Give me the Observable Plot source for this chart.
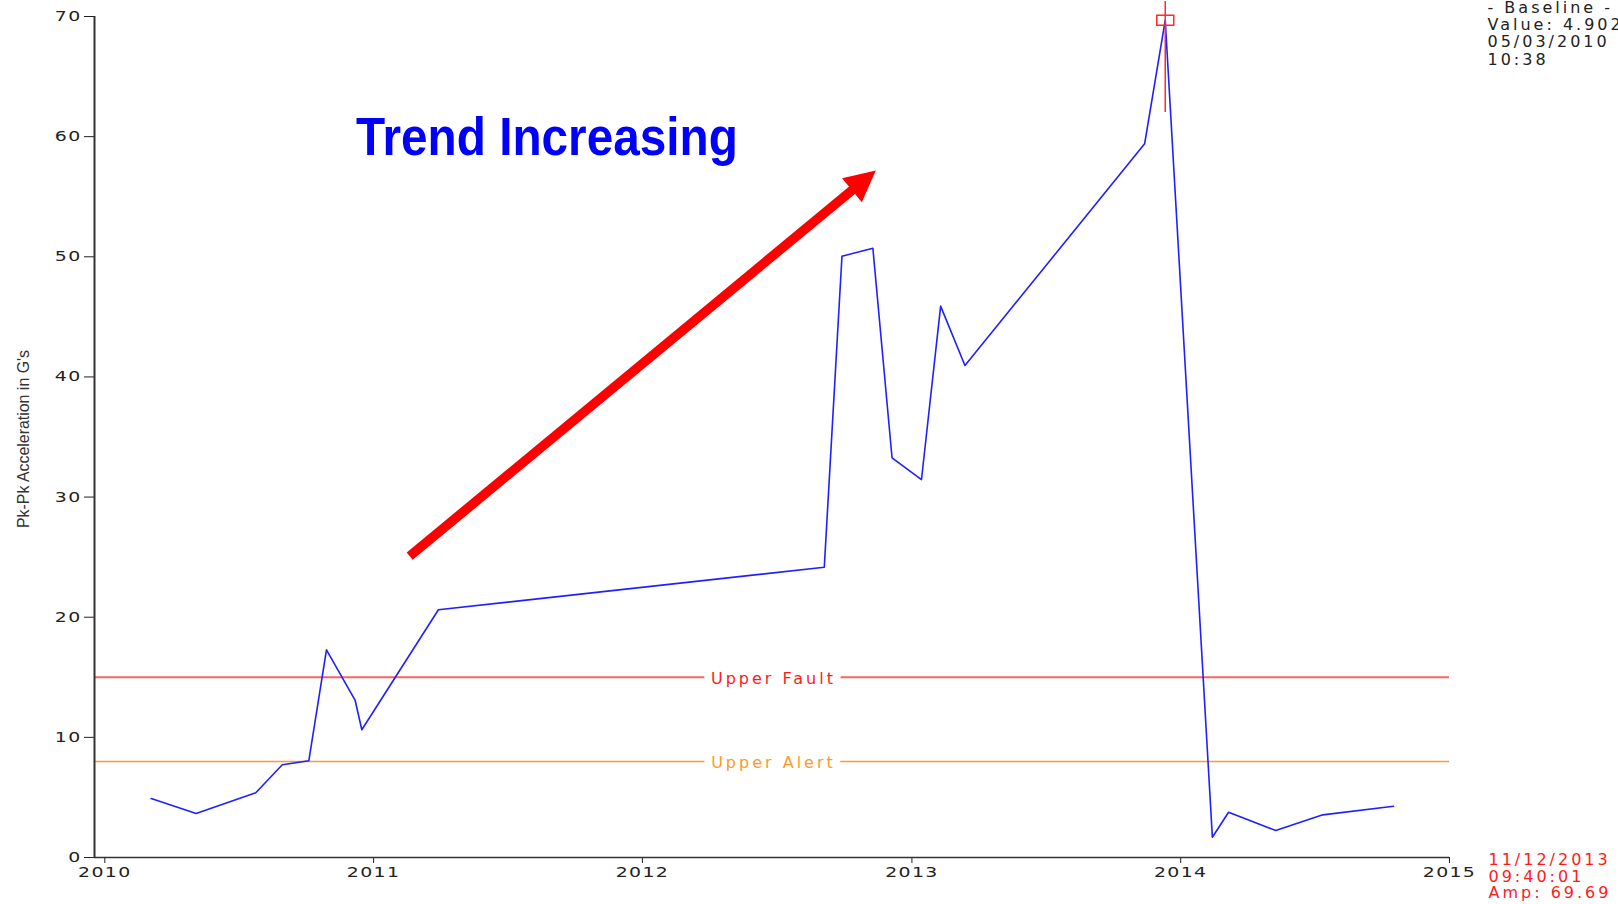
<!DOCTYPE html>
<html><head><meta charset="utf-8">
<script src="https://cdn.jsdelivr.net/npm/d3@7"></script>
<script src="https://cdn.jsdelivr.net/npm/@observablehq/plot@0.6"></script>
<style>
html,body{margin:0;padding:0;background:#fff;overflow:hidden;}
#chart svg text{letter-spacing:3px;}
</style></head><body><div id="chart"></div><script>
// ---- data ----
const dates = ["2010-03-05","2010-05-05","2010-07-25","2010-08-30","2010-10-05","2010-10-29","2010-12-07","2010-12-16","2011-03-30","2012-09-04","2012-09-28","2012-11-09","2012-12-05","2013-01-14","2013-02-09","2013-03-14","2013-11-13","2013-12-11","2014-02-13","2014-03-07","2014-05-10","2014-07-13","2014-10-17"];
const values = [4.902,3.66,5.39,7.72,8.05,17.29,13.07,10.63,20.62,24.16,50.05,50.71,33.27,31.46,45.89,40.95,59.40,69.69,1.69,3.77,2.25,3.55,4.27];
const xTicks = ["2010-01-01","2011-01-01","2012-01-01","2013-01-01","2014-01-01","2015-01-01"];
const yTicks = [0,10,20,30,40,50,60,70];
const xDomainDates = ["2009-12-18","2015-01-01"];
const yDomain = [0,70];
const thresholdNames = ["Upper Fault","Upper Alert"];
const thresholdValues = [15, 8];
const thresholdLabelDate = "2012-06-27";
const yLabel = "Pk-Pk Acceleration in G's";
const trendText = "Trend Increasing";
const trendLabelPos = {date:"2010-12-08", value:59.9};
const trendArrowDates = ["2011-02-19","2012-11-13"];
const trendArrowValues = [25.08, 57.18];
const baselineLines = ["- Baseline -","Value: 4.902","05/03/2010","10:38"];
const cursorDate = "2013-12-11";
const cursorAmp = 69.69;
const cursorTime = "09:40:01";
const cursorSpan = [62.0, 71.25];

// ---- layout ----
const W = 1618, H = 904;
const M = {left:94, right:169, top:16, bottom:47};
const data = dates.map((d,i)=>({date:new Date(d), value:values[i]}));
const xDomain = xDomainDates.map(d=>new Date(d));
const xs = d3.scaleUtc().domain(xDomain).range([M.left, W-M.right]);
const ys = d3.scaleLinear().domain(yDomain).range([H-M.bottom, M.top]);

// arrow geometry
const a0 = [xs(new Date(trendArrowDates[0])), ys(trendArrowValues[0])];
const a1 = [xs(new Date(trendArrowDates[1])), ys(trendArrowValues[1])];
const adx = a1[0]-a0[0], ady = a1[1]-a0[1], alen = Math.hypot(adx, ady);
const ux = adx/alen, uy = ady/alen;
const headLen = 31, headW = 31;
const shaftEnd = {date: xs.invert(a1[0]-ux*headLen*0.8), value: ys.invert(a1[1]-uy*headLen*0.8)};
const headSymbol = {draw(ctx){
  const bx = -ux*headLen, by = -uy*headLen;
  const px = -uy*headW/2, py = ux*headW/2;
  ctx.moveTo(0,0); ctx.lineTo(bx+px, by+py); ctx.lineTo(bx-px, by-py); ctx.closePath();
}};
const rectSymbol = {draw(ctx){
  ctx.moveTo(-8.5,-5); ctx.lineTo(8.5,-5); ctx.lineTo(8.5,5); ctx.lineTo(-8.5,5); ctx.closePath();
}};

const cursor = [{date:new Date(cursorDate), amp:cursorAmp, lo:cursorSpan[0], hi:cursorSpan[1]}];
const cursorText = d3.utcFormat("%d/%m/%Y")(new Date(cursorDate)) + "\n" + cursorTime + "\nAmp: " + cursorAmp.toFixed(2);
const thresholds = thresholdNames.map((n,i)=>({name:n, value:thresholdValues[i], date:new Date(thresholdLabelDate)}));

const chart = Plot.plot({
  width: W, height: H,
  marginLeft: M.left, marginRight: M.right, marginTop: M.top, marginBottom: M.bottom,
  style: {fontFamily: "DejaVu Sans", fontSize: "14px", color: "#222", background: "white", overflow: "visible"},
  x: {type: "utc", domain: xDomain, ticks: xTicks.map(d=>new Date(d)), tickFormat: d3.utcFormat("%Y"), tickSize: 6, tickPadding: 4, label: null},
  y: {domain: yDomain, ticks: yTicks, tickSize: 10, tickPadding: 3, label: null},
  marks: [
    Plot.ruleY([thresholds[0]], {y: "value", stroke: "#ff6262", strokeWidth: 2}),
    Plot.ruleY([thresholds[1]], {y: "value", stroke: "#ff9a2a", strokeWidth: 1.5}),
    Plot.text([thresholds[0]], {x: "date", y: "value", text: "name", fill: "#ff1a1a", stroke: "white", strokeWidth: 16, fontSize: 16, dy: 2}),
    Plot.text([thresholds[1]], {x: "date", y: "value", text: "name", fill: "#ff9a2a", stroke: "white", strokeWidth: 16, fontSize: 16, dy: 1}),
    Plot.ruleX([xDomain[0]], {y1: yDomain[0], y2: yDomain[1], stroke: "#333", strokeWidth: 2}),
    Plot.ruleY([0], {stroke: "#333", strokeWidth: 1.6}),
    Plot.line(data, {x: "date", y: "value", stroke: "#1f1fff", strokeWidth: 1.6}),
    Plot.ruleX(cursor, {x: "date", y1: "lo", y2: "hi", stroke: "#ff2a2a", strokeWidth: 1.5}),
    Plot.dot(cursor, {x: "date", y: "amp", symbol: rectSymbol, fill: "none", stroke: "#ff2a2a", strokeWidth: 1.5}),
    Plot.link([{x1: new Date(trendArrowDates[0]), y1: trendArrowValues[0], x2: shaftEnd.date, y2: shaftEnd.value}], {x1: "x1", y1: "y1", x2: "x2", y2: "y2", stroke: "#ff0000", strokeWidth: 9.5}),
    Plot.dot([{date: new Date(trendArrowDates[1]), value: trendArrowValues[1]}], {x: "date", y: "value", symbol: headSymbol, fill: "#ff0000", stroke: "none"}),
    Plot.text([{date: new Date(trendLabelPos.date), value: trendLabelPos.value, t: trendText}], {x: "date", y: "value", text: "t", textAnchor: "start", fontFamily: "Liberation Sans", fontWeight: "bold", fontSize: 53, fill: "#0000ff"}),
    Plot.text([yLabel], {frameAnchor: "left", text: d=>d, textAnchor: "middle", rotate: -90, dx: -71, dy: 2, fontFamily: "Liberation Sans", fontSize: 16.5, fill: "#333"}),
    Plot.text([baselineLines.join("\n")], {frameAnchor: "top-right", text: d=>d, textAnchor: "start", lineAnchor: "top", dx: 38, dy: -15.7, fontSize: 16, lineHeight: 1.075, fill: "#222"}),
    Plot.text([cursorText], {frameAnchor: "bottom-right", text: d=>d, textAnchor: "start", lineAnchor: "top", dx: 39, dy: -4.5, fontSize: 16, lineHeight: 1.045, fill: "#ff1a1a"})
  ]
});
document.getElementById("chart").appendChild(chart);

const sel = d3.select(chart);
sel.selectAll("text").each(function(){
  const t = this.textContent;
  if (t === trendText) {
    this.style.letterSpacing = "0px";
    this.setAttribute("textLength", "382");
    this.setAttribute("lengthAdjust", "spacingAndGlyphs");
  } else if (t === yLabel) {
    this.style.letterSpacing = "0px";
    this.setAttribute("textLength", "178");
    this.setAttribute("lengthAdjust", "spacingAndGlyphs");
  }
});
// wide tick lettering like the reference
sel.selectAll('g[aria-label^="x-axis"] text, g[aria-label^="y-axis"] text').each(function(){
  const tr = this.getAttribute("transform") || "";
  this.setAttribute("transform", (tr + " scale(1.35,1)").trim());
  this.style.letterSpacing = "1px";
});
</script></body></html>
